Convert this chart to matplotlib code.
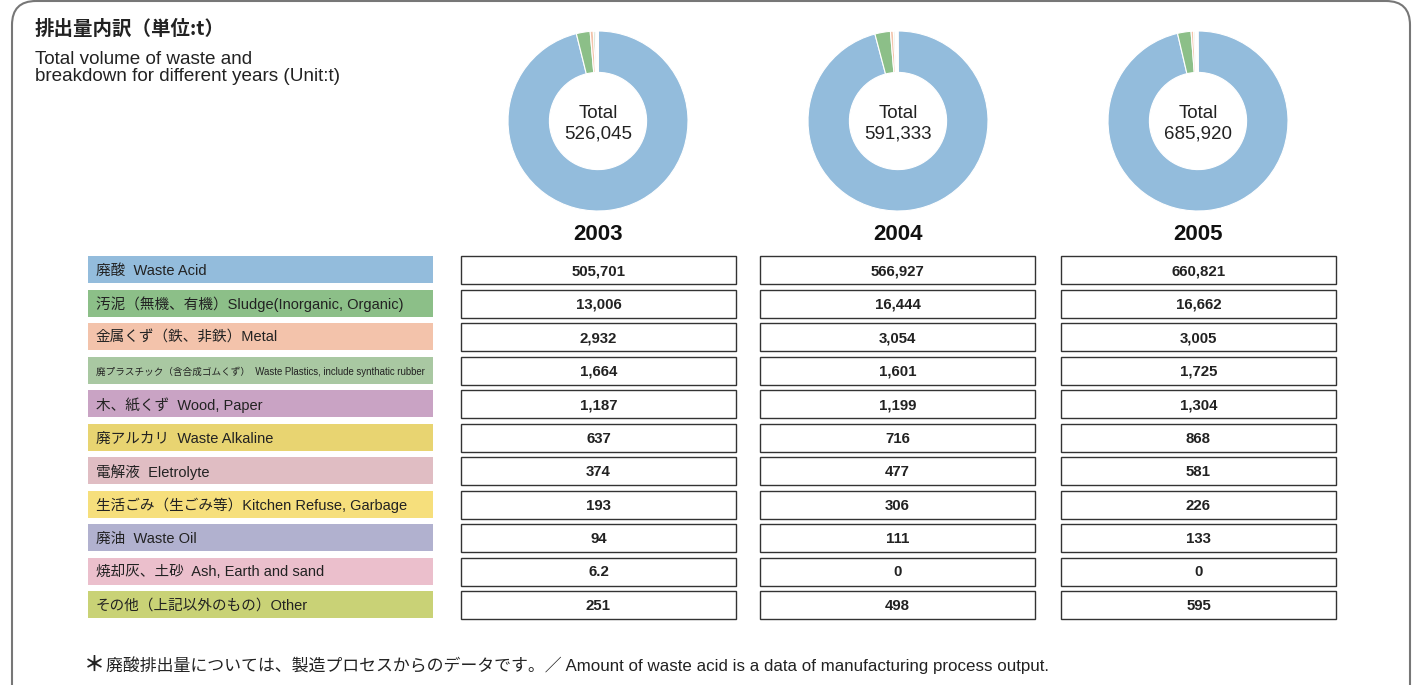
import matplotlib
matplotlib.use("Agg")
import matplotlib.pyplot as plt
from matplotlib.patches import Rectangle, FancyBboxPatch

plt.rcParams['font.family'] = ['Liberation Sans', 'Noto Sans CJK JP', 'DejaVu Sans']

# categories
labels = ["廃酸  Waste Acid",
          "汚泥（無機、有機）Sludge(Inorganic, Organic)",
          "金属くず（鉄、非鉄）Metal",
          "廃プラスチック（含合成ゴムくず）  Waste Plastics, include synthatic rubber",
          "木、紙くず  Wood, Paper",
          "廃アルカリ  Waste Alkaline",
          "電解液  Eletrolyte",
          "生活ごみ（生ごみ等）Kitchen Refuse, Garbage",
          "廃油  Waste Oil",
          "焼却灰、土砂  Ash, Earth and sand",
          "その他（上記以外のもの）Other"]
colors = ["#93bcdc", "#8cbf88", "#f3c3ab", "#a9c8a2", "#c9a3c4", "#e8d471",
          "#e0bdc3", "#f6df7c", "#b1b1cf", "#ebbfcc", "#c9d276"]

years = ["2003", "2004", "2005"]
v2003 = [505701, 13006, 2932, 1664, 1187, 637, 374, 193, 94, 6.2, 251]
v2004 = [566927, 16444, 3054, 1601, 1199, 716, 477, 306, 111, 0, 498]
v2005 = [660821, 16662, 3005, 1725, 1304, 868, 581, 226, 133, 0, 595]
totals = [526045, 591333, 685920]
values = [v2003, v2004, v2005]


def fmt(v):
    if float(v).is_integer():
        return f"{int(v):,}"
    return str(v)


W, H = 1414, 685
fig = plt.figure(figsize=(W / 100, H / 100), dpi=100)
ax = fig.add_axes([0, 0, 1, 1])
ax.set_xlim(0, W)
ax.set_ylim(H, 0)
ax.axis('off')

# frame
ax.add_patch(FancyBboxPatch((12, 1), 1398, 720, boxstyle="round,pad=0,rounding_size=24",
                            fc='none', ec='#777777', lw=1.5, clip_on=False))

# title
ax.text(35, 29, "排出量内訳（単位:t）", fontsize=14, fontweight='bold',
        family=['Noto Sans CJK JP', 'DejaVu Sans'], va='center', ha='left', color='#222222')
ax.text(35, 68, "Total volume of waste and\nbreakdown for different years (Unit:t)",
        fontsize=13.6, va='center', ha='left', color='#222222', linespacing=1.02)

centers = [598, 898, 1198]
box_l = [461, 760, 1061]
box_w = 275
row_y0 = 256
row_dy = 33.5
row_h = 28

# label boxes
for i, (lab, c) in enumerate(zip(labels, colors)):
    y = row_y0 + i * row_dy
    ax.add_patch(Rectangle((88, y), 345, row_h - 1, fc=c, ec='none'))
    fs = 6.9 if i == 3 else 10.5
    ax.text(96, y + row_h / 2 + 1, lab, fontsize=fs,
            va='center', ha='left', color='#222222')

# value boxes and donuts
for j, (yr, vals) in enumerate(zip(years, values)):
    cx = centers[j]
    ax.text(cx, 234, yr, fontsize=16, fontweight='bold', ha='center', va='center',
            color='#111111')
    for i, v in enumerate(vals):
        y = row_y0 + i * row_dy
        ax.add_patch(Rectangle((box_l[j], y), box_w, row_h, fc='white', ec='#333333', lw=1.0))
        ax.text(box_l[j] + box_w / 2, y + row_h / 2 + 1, fmt(v), fontsize=10.8, fontweight='bold',
                ha='center', va='center', color='#222222')

    r = 90
    pax = fig.add_axes([(cx - r) / W, (H - 121 - r) / H, 2 * r / W, 2 * r / H])
    pax.pie(vals, colors=colors, startangle=90, counterclock=False,
            wedgeprops=dict(width=0.46, edgecolor='white', linewidth=0.8))
    pax.set_xlim(-1, 1)
    pax.set_ylim(-1, 1)
    pax.set_aspect('equal')
    pax.axis('off')
    pax.text(0, -0.03, f"Total\n{totals[j]:,}", fontsize=13.5, ha='center', va='center',
             color='#222222', linespacing=1.3)

# footnote
ax.text(84, 664, "＊", fontsize=15, fontweight='bold', family=['Noto Sans CJK JP'],
        ha='left', va='center', color='#222222')
ax.text(106, 665, "廃酸排出量については、製造プロセスからのデータです。／ Amount of waste acid is a data of manufacturing process output.",
        fontsize=12.2, ha='left', va='center', color='#222222')

fig.savefig("out.png", dpi=100)
